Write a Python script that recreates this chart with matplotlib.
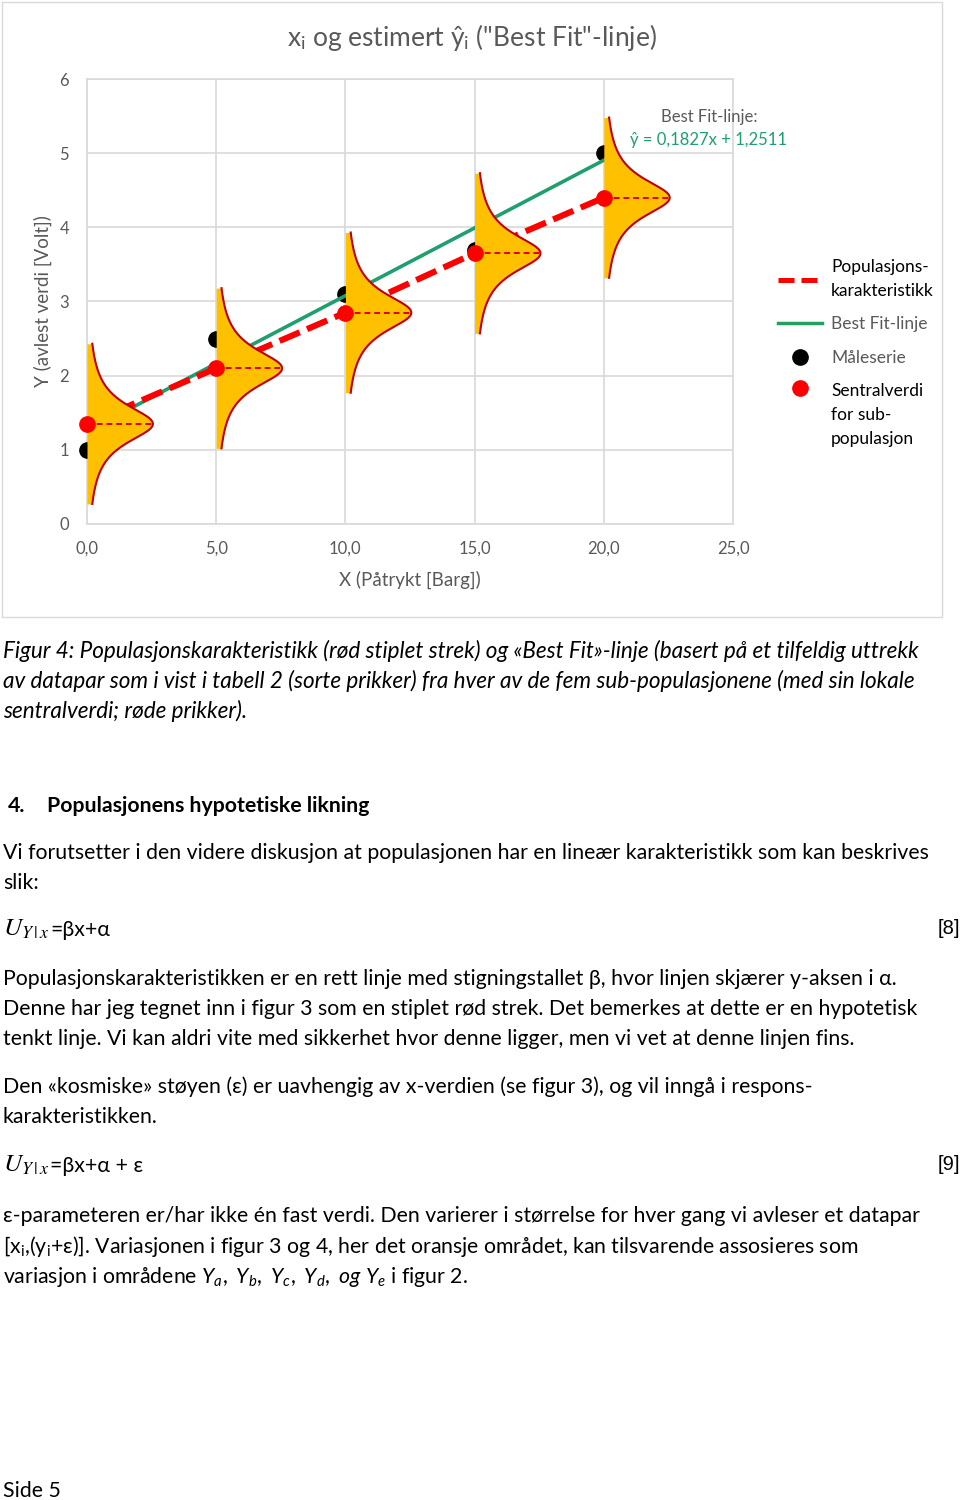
import numpy as np
import matplotlib
matplotlib.use("Agg")
import matplotlib.pyplot as plt
from matplotlib.lines import Line2D
from matplotlib.patches import Rectangle
from matplotlib.legend_handler import HandlerLine2D

# data
x_vals = [0, 5, 10, 15, 20]
y_meas = [1.0, 2.5, 3.1, 3.7, 5.0]          # Måleserie (black)
y_central = [1.35, 2.1, 2.85, 3.65, 4.4]    # Sentralverdi (red)
fit_slope = 0.1827
fit_intercept = 1.2511
fit_x = [0, 20]

x_ticks = [0, 5, 10, 15, 20, 25]
x_ticklabels = ["0,0", "5,0", "10,0", "15,0", "20,0", "25,0"]
y_ticks = [0, 1, 2, 3, 4, 5, 6]
y_ticklabels = ["0", "1", "2", "3", "4", "5", "6"]

FONT = ["Lato", "DejaVu Sans"]
GRAY = "#595959"
GREEN = "#1F9E6E"

plt.rcParams["font.family"] = FONT
plt.rcParams["mathtext.fontset"] = "custom"
plt.rcParams["mathtext.rm"] = "Lato"
plt.rcParams["mathtext.it"] = "Lato:italic"
plt.rcParams["mathtext.bf"] = "Lato:bold"

W, H = 960, 1500
fig = plt.figure(figsize=(W / 100, H / 100), dpi=100)
fig.patch.set_facecolor("white")

def px(x, y):
    return x / W, 1 - y / H

# chart frame
fig.patches.append(Rectangle(px(2, 617), 940 / W, 615 / H, transform=fig.transFigure,
                             fill=False, edgecolor="#D9D9D9", lw=1))

# plot area
ax = fig.add_axes([87 / W, 1 - 524 / H, 646 / W, 445 / H])
ax.set_xlim(0, 25)
ax.set_ylim(0, 6)
ax.set_xticks(x_ticks, x_ticklabels)
ax.set_yticks(y_ticks, y_ticklabels)
ax.tick_params(length=0, labelsize=12, labelcolor=GRAY)
ax.tick_params(axis="x", pad=12)
ax.tick_params(axis="y", pad=13)
ax.grid(color="#D9D9D9", lw=1.2)
ax.set_axisbelow(True)
for s in ax.spines.values():
    s.set_color("#D9D9D9")
    s.set_linewidth(1.2)

ax.set_xlabel("X (Påtrykt [Barg])", fontsize=13.5, color=GRAY)
ax.xaxis.set_label_coords(0.5, -0.104)
ax.set_ylabel("Y (avlest verdi [Volt])", fontsize=13.5, color=GRAY)
ax.yaxis.set_label_coords(-0.054, 0.5)

fig.text(*px(472, 46), r'x$_\mathregular{i}$ og estimert ŷ$_\mathregular{i}$ ("Best Fit"-linje)',
         fontsize=19, color=GRAY, ha="center", va="baseline")

# measured points (partly hidden behind the curves)
ax.plot(x_vals, y_meas, ls="none", marker="o", ms=11, color="black", zorder=3, clip_on=False)

# best fit line
fit_y = [fit_slope * x + fit_intercept for x in fit_x]
ax.plot(fit_x, fit_y, color=GREEN, lw=2.6, zorder=3)

# population characteristic
ax.plot(x_vals, y_central, color="#FF0000", lw=4.4, dashes=(3.6, 1.3), zorder=3)

# distribution of each sub-population
width = 2.55
gamma = 0.32
d = np.linspace(-1.08, 1.08, 300)
shape = 1 / (1 + (d / gamma) ** 2)
for x0, yc in zip(x_vals, y_central):
    yy = yc + d
    ax.fill_betweenx(yy, x0, x0 + width * shape, color="#FFC000", lw=0, zorder=4, clip_on=False)
    ax.plot(x0 + width * shape, yy, color="#C00000", lw=1.5, zorder=5, clip_on=False)
    ax.plot([x0, x0 + width], [yc, yc], color="#E00000", lw=1.4, dashes=(3, 2), zorder=5)

ax.plot(x_vals, y_central, ls="none", marker="o", ms=11, color="#FF0000", zorder=6, clip_on=False)

ax.text(24.07, 5.49, "Best Fit-linje:", fontsize=12, color=GRAY, ha="center", va="center")
ax.text(24.07, 5.18, "ŷ = 0,1827x + 1,2511", fontsize=12, color=GREEN, ha="center", va="center")


class FirstLineHandler(HandlerLine2D):
    # put the marker beside the first line of a multi-line label
    def __init__(self, shift, **kw):
        super().__init__(**kw)
        self.shift = shift

    def create_artists(self, legend, orig_handle, xdescent, ydescent, width, height, fontsize, trans):
        arts = super().create_artists(legend, orig_handle, xdescent, ydescent, width, height, fontsize, trans)
        for a in arts:
            a.set_ydata(np.asarray(a.get_ydata(), dtype=float) + self.shift)
        return arts


LEG_FS = 12.5
LEG_LS = 1.6
handles = [
    Line2D([], [], color="#FF0000", lw=3.6, dashes=(3.2, 1.4)),
    Line2D([], [], color="#21A060", lw=2.5),
    Line2D([], [], ls="none", marker="o", ms=11, color="black"),
    Line2D([], [], ls="none", marker="o", ms=11, color="#FF0000"),
]
labels = ["Populasjons-\nkarakteristikk", "Best Fit-linje", "Måleserie",
          "Sentralverdi\nfor sub-\npopulasjon"]
leg = ax.legend(handles, labels, loc="upper left", bbox_to_anchor=(1.07, 0.595),
                frameon=False, fontsize=LEG_FS, handlelength=2.5, handletextpad=0.55,
                labelspacing=1.0, borderpad=0, borderaxespad=0,
                handler_map={handles[3]: FirstLineHandler(LEG_LS * LEG_FS * 1.0)})
for t, c in zip(leg.get_texts(), ["black", GRAY, GRAY, "black"]):
    t.set_color(c)
    t.set_linespacing(LEG_LS)

# page text
renderer = fig.canvas.get_renderer()

def fit_size(s, target, **kw):
    t = fig.text(0, 0, s, fontsize=10, **kw)
    w = t.get_window_extent(renderer).width
    t.remove()
    return 10 * target / w

cap1 = "Figur 4: Populasjonskarakteristikk (rød stiplet strek) og «Best Fit»-linje (basert på et tilfeldig uttrekk"
cap2 = "av datapar som i vist i tabell 2 (sorte prikker) fra hver av de fem sub-populasjonene (med sin lokale"
cap3 = "sentralverdi; røde prikker)."
body1 = "Vi forutsetter i den videre diskusjon at populasjonen har en lineær karakteristikk som kan beskrives"

cap_fs = fit_size(cap1, 919, style="italic")
fs = fit_size(body1, 923)

def line(x, y, s, size=None, **kw):
    return fig.text(*px(x, y), s, fontsize=size or fs, va="baseline", ha="left", **kw)

def equation(y, rest):
    # larger math symbol, then the plain part right after it
    t = line(3, y, r"$U_{Y\,|\,x}$", fs * 1.2, math_fontfamily="stix")
    w = t.get_window_extent(renderer).width
    line(3 + w + 1, y, rest)

for y, s in zip([658, 688, 718], [cap1, cap2, cap3]):
    line(3, y, s, cap_fs, style="italic")

line(8, 812, "4.", weight="bold")
line(47, 812, "Populasjonens hypotetiske likning", weight="bold")

line(3, 859, body1)
line(3, 889, "slik:")

equation(936, "=βx+α")
line(938, 934, "[8]", fs * 0.95, family="Liberation Sans")

line(3, 985, "Populasjonskarakteristikken er en rett linje med stigningstallet β, hvor linjen skjærer y-aksen i α.")
line(3, 1015, "Denne har jeg tegnet inn i figur 3 som en stiplet rød strek. Det bemerkes at dette er en hypotetisk")
line(3, 1045, "tenkt linje. Vi kan aldri vite med sikkerhet hvor denne ligger, men vi vet at denne linjen fins.")

line(3, 1093, "Den «kosmiske» støyen (ε) er uavhengig av x-verdien (se figur 3), og vil inngå i respons-")
line(3, 1123, "karakteristikken.")

equation(1172, "=βx+α + ε")
line(938, 1170, "[9]", fs * 0.95, family="Liberation Sans")

line(3, 1222, "ε-parameteren er/har ikke én fast verdi. Den varierer i størrelse for hver gang vi avleser et datapar")
line(3, 1253, r"[x$_\mathregular{i}$,(y$_\mathregular{i}$+ε)]. Variasjonen i figur 3 og 4, her det oransje området, kan tilsvarende assosieres som")
line(3, 1283, r"variasjon i områdene $\mathit{Y_a,\ Y_b,\ Y_c,\ Y_d,\ og\ Y_e}$ i figur 2.")

line(3, 1497, "Side 5")

fig.savefig("out.png", dpi=100, facecolor="white")
